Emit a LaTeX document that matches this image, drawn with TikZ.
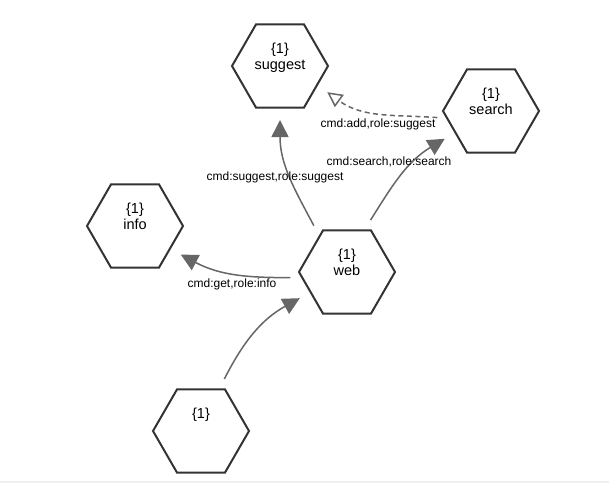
\documentclass[tikz,border=0pt]{standalone}
\usepackage{fontspec}
\setmainfont{Liberation Sans}
\usepackage{tikz}
\usetikzlibrary{arrows.meta}

\definecolor{hexgray}{HTML}{333333}
\definecolor{linkgray}{HTML}{666666}
\definecolor{stripgray}{HTML}{F0F0F0}

\begin{document}
\begin{tikzpicture}
[x=1pt, y=1pt,
% STYLES
% The hexline style is used for the outline of each service
hexline/.style={draw=hexgray, line width=2pt, line join=miter},
% The hub style is a round node with a hexagon drawn inside it
hub/.style={circle, minimum size=108pt, inner sep=0pt, outer sep=0pt,
  text height=7.5pt, text depth=0pt, font=\fontsize{14.5}{17}\selectfont,
  path picture={\draw[hexline] (path picture bounding box.center) ++(0:48pt)
    -- ++(120:48pt) -- ++(180:48pt) -- ++(240:48pt) -- ++(300:48pt) -- ++(0:48pt) -- cycle;}},
% The count style is used to draw the number of instances
count/.style={anchor=base, inner sep=0pt, font=\fontsize{14.5}{17}\selectfont},
% The link style is used for the messages between services
link/.style={draw=linkgray, line width=1.5pt, shorten <=3pt,
  -{Triangle[length=17pt, width=17pt, fill=linkgray]}},
addlink/.style={draw=linkgray, line width=1.5pt, dash pattern=on 5pt off 3.5pt,
  -{Triangle[open, length=15pt, width=15pt]}},
% The msg style is used to draw the pattern of each message
msg/.style={inner sep=1pt, font=\fontsize{12}{14}\selectfont}]

\useasboundingbox (0,0) rectangle (609,483);
\fill[stripgray] (0,0) rectangle (609,2.5);

% Draw services
\node [hub] (suggest) at (280,417) {suggest};
\node [hub] (search) at (491,372) {search};
\node [hub] (info) at (135,257) {info};
\node [hub] (web) at (347,211) {web};
\node [hub] (client) at (201,52) {};

% instances
\node [count] (suggest-num) at ([yshift=12.5pt]suggest.center) {\{1\}};
\node [count] (search-num) at ([yshift=12.5pt]search.center) {\{1\}};
\node [count] (info-num) at ([yshift=12.5pt]info.center) {\{1\}};
\node [count] (web-num) at ([yshift=12.5pt]web.center) {\{1\}};
\node [count] (client-num) at ([yshift=12.5pt]client.center) {\{1\}};

% Draw the links between services
\draw[link] (web.126) to[out=118, in=-90] (suggest.-90);
\draw[link] (web.66) to[out=58, in=211] (search.211);
\draw[link] (web.186) to[out=180, in=-28] (info.-32);
\draw[link] (client.66) to[out=63, in=209] (web.209);
\draw[addlink] (search.187) to[out=176, in=-36] (suggest.-29);

% patterns
\node [msg] (msg-suggest) at (275,306) {cmd:suggest,role:suggest};
\node [msg] (msg-search) at (389,321) {cmd:search,role:search};
\node [msg] (msg-add) at (378,359) {cmd:add,role:suggest};
\node [msg] (msg-info) at (232,199) {cmd:get,role:info};

\end{tikzpicture}
\end{document}
